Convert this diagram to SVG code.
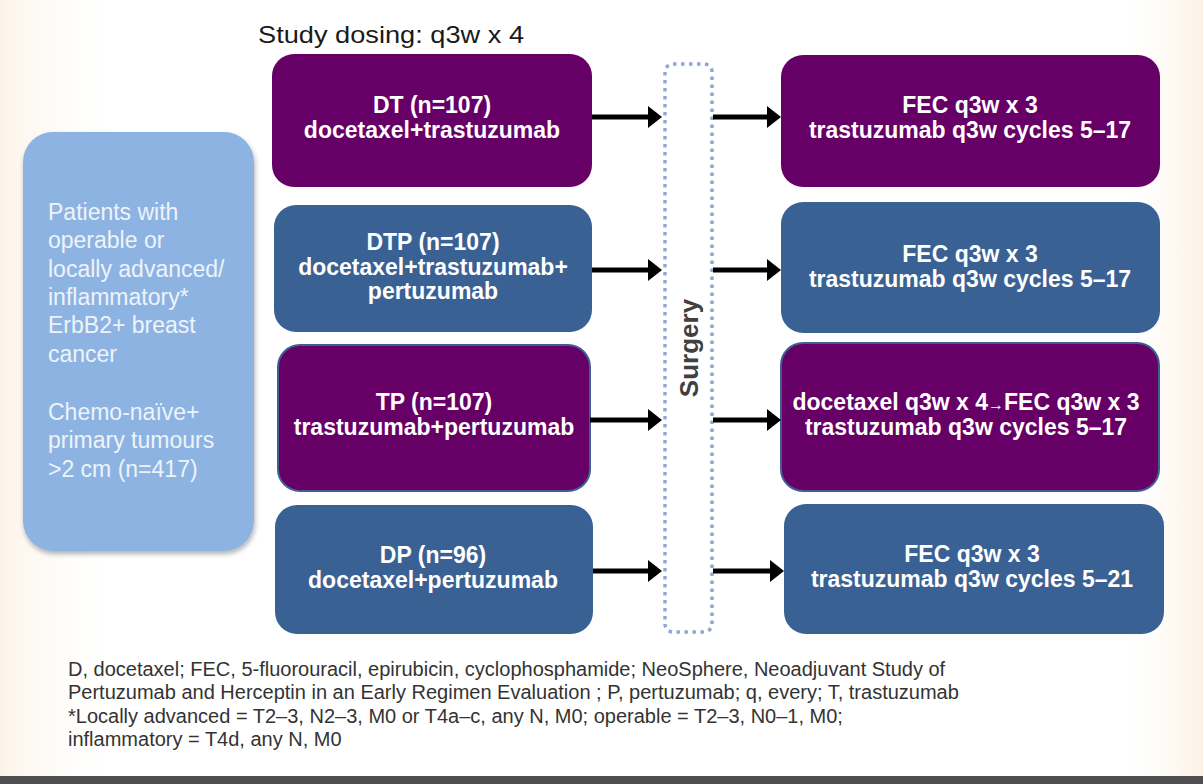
<svg xmlns="http://www.w3.org/2000/svg" width="1203" height="784" viewBox="0 0 1203 784">
<defs>
<linearGradient id="bgL" x1="0" y1="0" x2="1" y2="0">
<stop offset="0" stop-color="#fbf1e2"/>
<stop offset="1" stop-color="#ffffff" stop-opacity="0"/>
</linearGradient>
<linearGradient id="bgR" x1="0" y1="0" x2="1" y2="0">
<stop offset="0" stop-color="#ffffff" stop-opacity="0"/>
<stop offset="1" stop-color="#fcefdf"/>
</linearGradient>
<filter id="shadow" x="-10%" y="-10%" width="130%" height="130%">
<feDropShadow dx="1" dy="3" stdDeviation="2.5" flood-color="#000" flood-opacity="0.3"/>
</filter>
<marker id="arrow" markerUnits="userSpaceOnUse" markerWidth="14" markerHeight="22" refX="1" refY="11" orient="auto">
<path d="M0,0 L14,11 L0,22 Z" fill="#000"/>
</marker>
<style>
.purple{fill:#660066;}
.blue{fill:#3a6194;}
.edge{stroke:#3e5f90;stroke-width:2;}
.bt{font-family:"Liberation Sans",Arial,sans-serif;font-weight:bold;font-size:23px;fill:#ffffff;text-anchor:middle;}
.lt{font-family:"Liberation Sans",Arial,sans-serif;font-size:23px;fill:#eef3fa;}
.fn{font-family:"Liberation Sans",Arial,sans-serif;font-size:20px;fill:#333333;}
.conn{stroke:#000;stroke-width:5;fill:none;marker-end:url(#arrow);}
</style>
</defs>
<rect x="0" y="0" width="1203" height="784" fill="#ffffff"/>
<rect x="0" y="0" width="120" height="776" fill="url(#bgL)" opacity="0.8"/>
<rect x="1120" y="0" width="83" height="776" fill="url(#bgR)" opacity="0.9"/>
<rect x="0" y="776" width="1203" height="8" fill="#4f4f4f"/>

<text x="258" y="43" font-family="'Liberation Sans',Arial,sans-serif" font-size="24" fill="#1a1a1a" textLength="266" lengthAdjust="spacingAndGlyphs">Study dosing: q3w x 4</text>

<g id="patients">
<rect x="23" y="132" width="231" height="419" rx="30" fill="#8db3e2" filter="url(#shadow)"/>
<text class="lt" x="48" y="220">Patients with</text>
<text class="lt" x="48" y="248">operable or</text>
<text class="lt" x="48" y="277">locally advanced/</text>
<text class="lt" x="48" y="305">inflammatory*</text>
<text class="lt" x="48" y="333">ErbB2+ breast</text>
<text class="lt" x="48" y="362">cancer</text>
<text class="lt" x="48" y="420">Chemo-naïve+</text>
<text class="lt" x="48" y="448">primary tumours</text>
<text class="lt" x="48" y="477">&gt;2 cm (n=417)</text>
</g>

<g id="dt">
<rect class="purple" x="272" y="54" width="320" height="133" rx="22"/>
<text class="bt" x="432" y="113">DT (n=107)</text>
<text class="bt" x="432" y="138">docetaxel+trastuzumab</text>
</g>

<g id="dtp">
<rect class="blue" x="274" y="205" width="318" height="127" rx="22"/>
<text class="bt" x="433" y="250">DTP (n=107)</text>
<text class="bt" x="433" y="275">docetaxel+trastuzumab+</text>
<text class="bt" x="433" y="299">pertuzumab</text>
</g>

<g id="tp">
<rect class="purple edge" x="278" y="345" width="312" height="146" rx="22"/>
<text class="bt" x="434" y="410">TP (n=107)</text>
<text class="bt" x="434" y="435">trastuzumab+pertuzumab</text>
</g>

<g id="dp">
<rect class="blue" x="275" y="505" width="318" height="129" rx="22"/>
<text class="bt" x="433" y="563">DP (n=96)</text>
<text class="bt" x="433" y="588">docetaxel+pertuzumab</text>
</g>

<g id="surgery">
<rect x="665" y="64" width="47" height="568" rx="8" fill="none" stroke="#8ea9d4" stroke-width="3.5" stroke-dasharray="3.5 4.5"/>
<text transform="translate(689,348) rotate(-90)" text-anchor="middle" dy="9" font-family="'Liberation Sans',Arial,sans-serif" font-weight="bold" font-size="26" fill="#404040">Surgery</text>
</g>

<g id="fec1">
<rect class="purple" x="781" y="55" width="379" height="132" rx="22"/>
<text class="bt" x="970" y="113">FEC q3w x 3</text>
<text class="bt" x="970" y="138">trastuzumab q3w cycles 5–17</text>
</g>

<g id="fec2">
<rect class="blue" x="781" y="202" width="379" height="131" rx="22"/>
<text class="bt" x="970" y="262">FEC q3w x 3</text>
<text class="bt" x="970" y="287">trastuzumab q3w cycles 5–17</text>
</g>

<g id="fec3">
<rect class="purple edge" x="781" y="343" width="378" height="148" rx="22"/>
<text class="bt" x="966" y="410">docetaxel q3w x 4<tspan font-weight="normal" font-size="16">→</tspan>FEC q3w x 3</text>
<text class="bt" x="966" y="435">trastuzumab q3w cycles 5–17</text>
</g>

<g id="fec4">
<rect class="blue" x="784" y="504" width="380" height="130" rx="22"/>
<text class="bt" x="972" y="562">FEC q3w x 3</text>
<text class="bt" x="972" y="587">trastuzumab q3w cycles 5–21</text>
</g>

<g id="connectors">
<line class="conn" x1="592" y1="117" x2="649" y2="117"/>
<line class="conn" x1="592" y1="270" x2="649" y2="270"/>
<line class="conn" x1="590" y1="420" x2="649" y2="420"/>
<line class="conn" x1="593" y1="571" x2="649" y2="571"/>
<line class="conn" x1="713" y1="117" x2="768" y2="117"/>
<line class="conn" x1="713" y1="270" x2="768" y2="270"/>
<line class="conn" x1="713" y1="420" x2="768" y2="420"/>
<line class="conn" x1="713" y1="571" x2="771" y2="571"/>
</g>

<g id="footnote">
<text class="fn" x="68" y="676">D, docetaxel; FEC, 5-fluorouracil, epirubicin, cyclophosphamide; NeoSphere, Neoadjuvant Study of</text>
<text class="fn" x="68" y="699">Pertuzumab and Herceptin in an Early Regimen Evaluation ; P, pertuzumab; q, every; T, trastuzumab</text>
<text class="fn" x="68" y="723">*Locally advanced = T2–3, N2–3, M0 or T4a–c, any N, M0; operable = T2–3, N0–1, M0;</text>
<text class="fn" x="68" y="746">inflammatory = T4d, any N, M0</text>
</g>
</svg>
